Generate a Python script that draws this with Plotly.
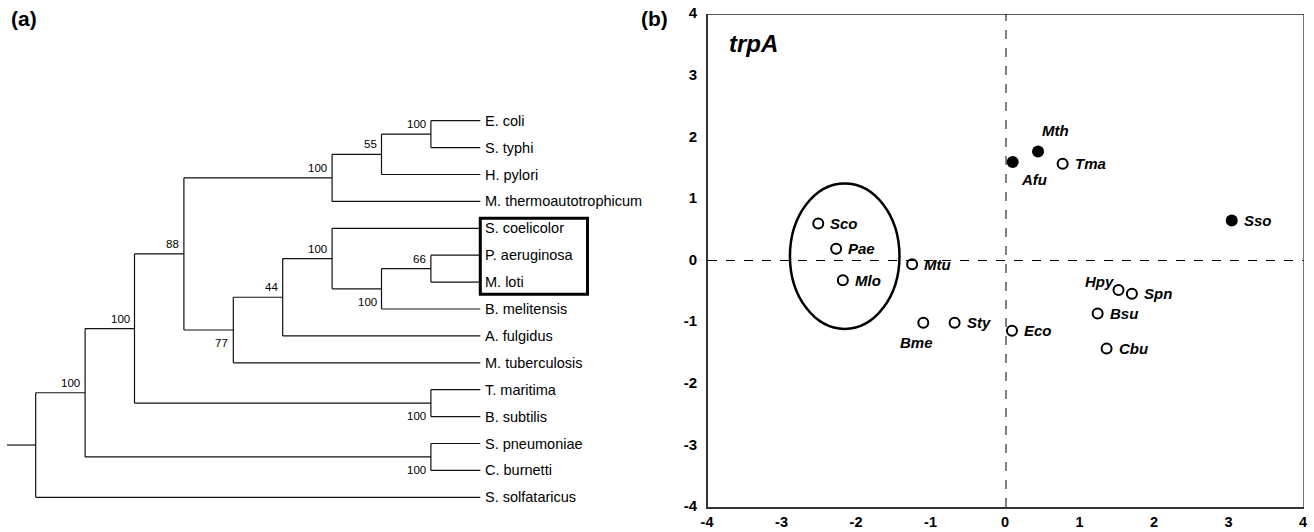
import plotly.graph_objects as go

# ---------------- (a) tree data ----------------
leaf_names = ["E. coli", "S. typhi", "H. pylori", "M. thermoautotrophicum",
              "S. coelicolor", "P. aeruginosa", "M. loti", "B. melitensis",
              "A. fulgidus", "M. tuberculosis", "T. maritima", "B. subtilis",
              "S. pneumoniae", "C. burnetti", "S. solfataricus"]
leaf_depth = 9
boxed_leaves = ["S. coelicolor", "P. aeruginosa", "M. loti"]

node_ids = ["ecst", "n55", "ntop", "n66", "nbme", "nsco", "n44", "n77", "n88",
            "tmbs", "nb", "spcb", "na", "root"]
node_children = [["E. coli", "S. typhi"], ["ecst", "H. pylori"],
                 ["n55", "M. thermoautotrophicum"], ["P. aeruginosa", "M. loti"],
                 ["n66", "B. melitensis"], ["S. coelicolor", "nbme"],
                 ["nsco", "A. fulgidus"], ["n44", "M. tuberculosis"],
                 ["ntop", "n77"], ["T. maritima", "B. subtilis"], ["n88", "tmbs"],
                 ["S. pneumoniae", "C. burnetti"], ["nb", "spcb"],
                 ["na", "S. solfataricus"]]
node_depth = [8, 7, 6, 8, 7, 6, 5, 4, 3, 8, 2, 8, 1, 0]
node_support = [100, 55, 100, 66, 100, 100, 44, 77, 88, 100, 100, 100, 100, None]
support_side = ["above", "above", "above", "above", "below", "above", "above",
                "below", "above", "below", "above", "below", "above", None]
root_stub_depth = -0.58

# ---------------- (b) scatter data ----------------
pt_names = ["Sco", "Pae", "Mlo", "Mtu", "Bme", "Sty", "Eco", "Hpy", "Spn",
            "Bsu", "Cbu", "Mth", "Afu", "Tma", "Sso"]
pt_x = [-2.52, -2.28, -2.19, -1.26, -1.11, -0.69, 0.08, 1.51, 1.69,
        1.23, 1.35, 0.43, 0.09, 0.76, 3.03]
pt_y = [0.60, 0.19, -0.32, -0.06, -1.01, -1.01, -1.14, -0.48, -0.54,
        -0.86, -1.43, 1.77, 1.60, 1.57, 0.65]
pt_filled = [False, False, False, False, False, False, False, False, False,
             False, False, True, True, False, True]
pt_label_pos = ["right", "right", "right", "right", "below-left", "right", "right",
                "left-up", "right", "right", "right", "above-right", "below-right",
                "right", "right"]
ellipse_x = [-2.90, -1.43]
ellipse_y = [-1.11, 1.25]
tick_vals = [-4, -3, -2, -1, 0, 1, 2, 3, 4]
tick_text = ["-4", "-3", "-2", "-1", "0", "1", "2", "3", "4"]

FONT = "Liberation Sans, Arial, sans-serif"
W, H = 1314, 532

# ---------- compute tree geometry ----------
ypos = {name: i for i, name in enumerate(leaf_names)}
xpos = {name: leaf_depth for name in leaf_names}
for nid, ch, d in zip(node_ids, node_children, node_depth):
    ypos[nid] = (ypos[ch[0]] + ypos[ch[1]]) / 2.0
    xpos[nid] = d

lx, ly = [], []
for nid, ch in zip(node_ids, node_children):
    x0 = xpos[nid]
    ys = [ypos[c] for c in ch]
    lx += [x0, x0, None]
    ly += [min(ys), max(ys), None]
    for c in ch:
        lx += [x0, xpos[c], None]
        ly += [ypos[c], ypos[c], None]
lx += [root_stub_depth, xpos["root"], None]
ly += [ypos["root"], ypos["root"], None]

fig = go.Figure()
fig.add_trace(go.Scatter(x=lx, y=ly, mode="lines",
                         line=dict(color="#111", width=1.2),
                         xaxis="x", yaxis="y", hoverinfo="skip", showlegend=False))

annotations = []
for name in leaf_names:
    annotations.append(dict(x=leaf_depth, y=ypos[name], xref="x", yref="y",
                            text=name, showarrow=False, xanchor="left",
                            yanchor="middle", xshift=3,
                            font=dict(family=FONT, size=14.5, color="black")))
for nid, s, side in zip(node_ids, node_support, support_side):
    if s is None:
        continue
    annotations.append(dict(x=xpos[nid], y=ypos[nid], xref="x", yref="y",
                            text=str(s), showarrow=False, xanchor="right",
                            yanchor="middle", xshift=-3,
                            yshift=10 if side == "above" else -13,
                            font=dict(family=FONT, size=11.5, color="black")))

shapes = []
bi = [ypos[n] for n in boxed_leaves]
shapes.append(dict(type="rect", xref="x", yref="y",
                   x0=leaf_depth, x1=11.17, y0=min(bi) - 0.37, y1=max(bi) + 0.45,
                   line=dict(color="black", width=3)))

# ---------- (b) scatter ----------
fig.add_trace(go.Scatter(
    x=pt_x, y=pt_y, mode="markers", xaxis="x2", yaxis="y2",
    marker=dict(size=[12 if f else 10 for f in pt_filled],
                color=["black" if f else "white" for f in pt_filled],
                opacity=1,
                line=dict(color="black", width=[0 if f else 2 for f in pt_filled])),
    hoverinfo="text", text=pt_names, showlegend=False))

pos_map = {
    "right": dict(xanchor="left", yanchor="middle", xshift=10, yshift=0),
    "below-left": dict(xanchor="center", yanchor="middle", xshift=-7, yshift=-20),
    "left-up": dict(xanchor="right", yanchor="middle", xshift=-3, yshift=9),
    "above-right": dict(xanchor="center", yanchor="middle", xshift=17, yshift=21),
    "below-right": dict(xanchor="center", yanchor="middle", xshift=21, yshift=-18),
}
for n, x, y, p in zip(pt_names, pt_x, pt_y, pt_label_pos):
    a = dict(x=x, y=y, xref="x2", yref="y2", text=n, showarrow=False,
             font=dict(family=FONT, size=15, color="black", weight="bold",
                       style="italic"))
    a.update(pos_map[p])
    annotations.append(a)

annotations.append(dict(x=-3.75, y=3.52, xref="x2", yref="y2", text="trpA",
                        showarrow=False, xanchor="left", yanchor="middle",
                        font=dict(family=FONT, size=24, color="black",
                                  weight="bold", style="italic")))
annotations.append(dict(x=9 / W, y=1 - 18 / H, xref="paper",
                        yref="paper", text="(a)", showarrow=False, xanchor="left",
                        yanchor="middle",
                        font=dict(family=FONT, size=21, color="black", weight="bold")))
annotations.append(dict(x=639 / W, y=1 - 18 / H, xref="paper",
                        yref="paper", text="(b)", showarrow=False, xanchor="left",
                        yanchor="middle",
                        font=dict(family=FONT, size=21, color="black", weight="bold")))

# dashed zero lines
shapes.append(dict(type="line", xref="x2", yref="y2", x0=-4, x1=4, y0=0, y1=0,
                   line=dict(color="black", width=1, dash="dash")))
shapes.append(dict(type="line", xref="x2", yref="y2", x0=0, x1=0, y0=-4, y1=4,
                   line=dict(color="black", width=1, dash="dash")))
# ellipse
shapes.append(dict(type="circle", xref="x2", yref="y2",
                   x0=ellipse_x[0], x1=ellipse_x[1], y0=ellipse_y[0], y1=ellipse_y[1],
                   line=dict(color="black", width=2.5)))
# top & right frame
shapes.append(dict(type="line", xref="x2", yref="y2", x0=-4, x1=4, y0=4, y1=4,
                   line=dict(color="#222", width=1.5)))
shapes.append(dict(type="line", xref="x2", yref="y2", x0=4, x1=4, y0=-4, y1=4,
                   line=dict(color="#444", width=1.5)))

# axis geometry (page pixels)
ax_left, ax_right, ax_top, ax_bottom = 708, 1304, 14, 507
tree_x0_px, tree_step_px = 35.7, 49.4
leaf_y0_px, leaf_step_px = 120.7, 26.9
tree_w = 657

axis_font = dict(family=FONT, size=15, color="black", weight="bold")
fig.update_layout(
    width=W, height=H, margin=dict(l=0, r=0, t=0, b=0, autoexpand=False),
    paper_bgcolor="white", plot_bgcolor="white",
    xaxis=dict(domain=[0, tree_w / W],
               range=[(0 - tree_x0_px) / tree_step_px,
                      (tree_w - tree_x0_px) / tree_step_px],
               visible=False, fixedrange=True, automargin=False),
    yaxis=dict(domain=[0, 1],
               range=[(H - leaf_y0_px) / leaf_step_px, (0 - leaf_y0_px) / leaf_step_px],
               visible=False, fixedrange=True, automargin=False),
    xaxis2=dict(domain=[ax_left / W, ax_right / W], range=[-4, 4], anchor="y2",
                tickvals=tick_vals, ticktext=tick_text,
                tickfont=dict(family=FONT, size=14.5, color="black", weight="bold"),
                showgrid=False, zeroline=False, showline=True, linecolor="#333",
                linewidth=2, ticks="", ticklabelstandoff=1, ticklabelshift=-1,
                ticklabeloverflow="allow", automargin=False),
    yaxis2=dict(domain=[(H - ax_bottom) / H, (H - ax_top) / H], range=[-4, 4],
                anchor="x2", tickvals=tick_vals, ticktext=tick_text, tickfont=axis_font,
                showgrid=False, zeroline=False, showline=True, linecolor="#333",
                linewidth=2, ticks="", ticklabelstandoff=6, ticklabelshift=-1,
                ticklabeloverflow="allow", automargin=False),
    shapes=shapes, annotations=annotations,
)

fig.write_html("out.html")
